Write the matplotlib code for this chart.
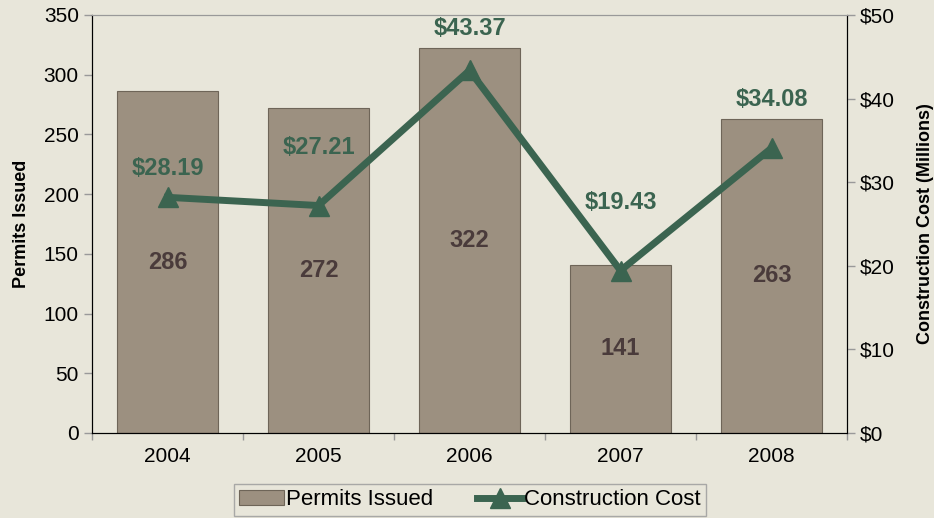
import matplotlib.pyplot as plt
import numpy as np

years = ["2004", "2005", "2006", "2007", "2008"]
permits = [286, 272, 322, 141, 263]
cost = [28.19, 27.21, 43.37, 19.43, 34.08]

bg = "#E8E6DA"
bar_color = "#9C9080"
line_color = "#3B6450"
label_dark = "#4A3B3B"
# vertical gap (pixels) between each cost point and its label
label_gap = [29, 58, 42, 68, 49]

plt.rcParams['font.family'] = ['Liberation Sans', 'DejaVu Sans']

fig = plt.figure(figsize=(9.34, 5.18), dpi=100, facecolor=bg)
ax = fig.add_axes([92 / 934, 85 / 518, 755 / 934, 418 / 518])
ax.set_facecolor(bg)
x = np.arange(len(years))

bars = ax.bar(x, permits, width=0.67, color=bar_color, edgecolor="#6E6558",
              linewidth=0.8, label="Permits Issued", zorder=2)
for xi, p in zip(x, permits):
    ax.text(xi, p / 2, str(p), ha="center", va="center", fontsize=17,
            fontweight="bold", color=label_dark, zorder=5)

ax.set_xlim(-0.5, len(years) - 0.5)
ax.set_ylim(0, 350)
ax.set_yticks(range(0, 351, 50))
ax.set_xticks(x)
ax.set_xticklabels(years)
ax.set_xticks(np.arange(-0.5, len(years), 1), minor=True)
ax.tick_params(axis="x", which="major", length=0, labelsize=15, pad=10)
ax.tick_params(axis="x", which="minor", length=5, color="#999999", width=1)
ax.tick_params(axis="y", labelsize=15, length=6, color="#999999", width=1)
ax.set_ylabel("Permits Issued", fontsize=13, fontweight="bold", labelpad=10)

ax2 = ax.twinx()
ax2.set_ylim(0, 50)
ax2.set_yticks(range(0, 51, 10))
ax2.set_yticklabels(["$%d" % v for v in range(0, 51, 10)])
ax2.tick_params(axis="y", labelsize=15, length=6, color="#999999", width=1)
line, = ax2.plot(x, cost, color=line_color, linewidth=5, marker="^",
                 markersize=14, label="Construction Cost", zorder=4)
for xi, c, g in zip(x, cost, label_gap):
    ax2.annotate("$%.2f" % c, (xi, c), xytext=(0, g * 0.72),
                 textcoords="offset points", ha="center", va="center",
                 fontsize=17, fontweight="bold", color=line_color)
ax2.set_ylabel("Construction Cost (Millions)", fontsize=13, fontweight="bold",
               labelpad=16)

for a in (ax, ax2):
    a.spines["top"].set_color("#999999")
    a.spines["left"].set_color("black")
    a.spines["right"].set_color("black")
    a.spines["bottom"].set_color("black")

leg = fig.legend(handles=[bars, line], loc="lower center",
                 bbox_to_anchor=(470 / 934, 2 / 518), ncol=2, fontsize=16,
                 frameon=True, fancybox=False, edgecolor="#999999",
                 facecolor=bg, handlelength=2.0, handletextpad=0.1,
                 columnspacing=2.0, borderpad=0.25, borderaxespad=0)
leg.get_frame().set_linewidth(1)

fig.savefig("out.png", dpi=100, facecolor=bg)
